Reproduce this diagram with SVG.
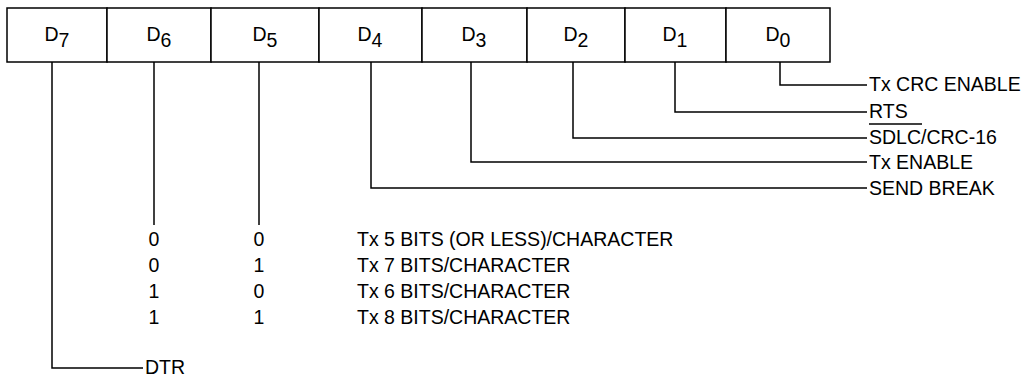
<svg xmlns="http://www.w3.org/2000/svg" width="1030" height="376" viewBox="0 0 1030 376">
<style>
text{font-family:"Liberation Sans",Arial,sans-serif;font-size:19.5px;fill:#000}
.c{text-anchor:middle}
.ln{fill:none;stroke:#000;stroke-width:1.5}
.cell{fill:#fff;stroke:#000;stroke-width:1.5}
</style>
<rect width="1030" height="376" fill="#fff"/>
<g id="register">
<g id="bit-d7"><rect class="cell" x="7" y="8" width="100" height="54"/><text class="c" x="57" y="41">D<tspan dy="6">7</tspan></text></g>
<g id="bit-d6"><rect class="cell" x="107" y="8" width="104" height="54"/><text class="c" x="159" y="41">D<tspan dy="6">6</tspan></text></g>
<g id="bit-d5"><rect class="cell" x="211" y="8" width="108" height="54"/><text class="c" x="265" y="41">D<tspan dy="6">5</tspan></text></g>
<g id="bit-d4"><rect class="cell" x="319" y="8" width="103" height="54"/><text class="c" x="370" y="41">D<tspan dy="6">4</tspan></text></g>
<g id="bit-d3"><rect class="cell" x="422" y="8" width="105" height="54"/><text class="c" x="474" y="41">D<tspan dy="6">3</tspan></text></g>
<g id="bit-d2"><rect class="cell" x="527" y="8" width="98" height="54"/><text class="c" x="576" y="41">D<tspan dy="6">2</tspan></text></g>
<g id="bit-d1"><rect class="cell" x="625" y="8" width="101" height="54"/><text class="c" x="675" y="41">D<tspan dy="6">1</tspan></text></g>
<g id="bit-d0"><rect class="cell" x="726" y="8" width="104" height="54"/><text class="c" x="778" y="41">D<tspan dy="6">0</tspan></text></g>
</g>
<g id="connectors">
<polyline class="ln" points="780,62 780,85 867,85"/>
<polyline class="ln" points="675,62 675,112 867,112"/>
<polyline class="ln" points="573,62 573,138 867,138"/>
<polyline class="ln" points="471,62 471,162 867,162"/>
<polyline class="ln" points="371,62 371,188 867,188"/>
<line class="ln" x1="259" y1="62" x2="259" y2="225"/>
<line class="ln" x1="154" y1="62" x2="154" y2="225"/>
<polyline class="ln" points="52,62 52,368 143,368"/>
</g>
<g id="labels">
<text x="869" y="91">Tx CRC ENABLE</text>
<text x="869" y="118">RTS</text>
<text x="869" y="144">SDLC/CRC-16</text>
<line class="ln" x1="869" y1="124" x2="922" y2="124"/>
<text x="869" y="169">Tx ENABLE</text>
<text x="869" y="195">SEND BREAK</text>
<text x="145" y="374">DTR</text>
</g>
<g id="table">
<text class="c" x="154" y="246">0</text><text class="c" x="259" y="246">0</text><text x="357" y="246">Tx 5 BITS (OR LESS)/CHARACTER</text>
<text class="c" x="154" y="272">0</text><text class="c" x="259" y="272">1</text><text x="357" y="272">Tx 7 BITS/CHARACTER</text>
<text class="c" x="154" y="298">1</text><text class="c" x="259" y="298">0</text><text x="357" y="298">Tx 6 BITS/CHARACTER</text>
<text class="c" x="154" y="324">1</text><text class="c" x="259" y="324">1</text><text x="357" y="324">Tx 8 BITS/CHARACTER</text>
</g>
</svg>
